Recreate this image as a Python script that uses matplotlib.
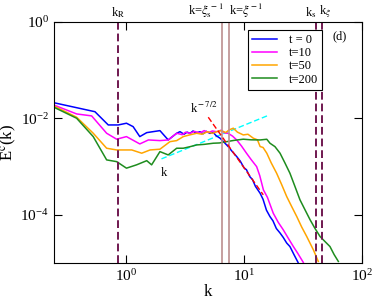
import numpy as np
import matplotlib.pyplot as plt

plt.rcParams['font.family'] = 'Liberation Serif'
plt.rcParams['mathtext.fontset'] = 'stix'

## Spectres E^c(k)
k0 = [0.245, 0.546, 0.708, 0.861, 1.01, 1.15, 1.31, 1.50, 1.94, 2.28, 2.69, 2.87,
      3.1, 3.3, 3.49, 3.7, 3.9, 4.24, 4.5, 4.8, 5.15, 5.5, 5.8, 6.26, 6.7, 7.36, 7.9,
      8.67, 9.3, 10.0, 10.5, 11.2, 11.8, 12.5, 13.7, 14.5, 15.5, 16.6, 17.6, 18.8,
      20.2, 21.5, 23.0, 24.5, 26.5, 28.7]
E0 = [0.0212, 0.0138, 0.00733, 0.00733, 0.00796, 0.00676, 0.0042, 0.00508, 0.00559,
      0.00358, 0.00493, 0.00532, 0.0047, 0.0052, 0.0049, 0.0055, 0.0050, 0.0053,
      0.0048, 0.0054, 0.0049, 0.0051, 0.0044, 0.0039, 0.0033, 0.0026, 0.0021,
      0.00162, 0.0013, 0.00095, 8.6e-4, 6.2e-4, 5.4e-4, 3.9e-4, 2.8e-4, 2.1e-4,
      1.25e-4, 9.2e-5, 7.5e-5, 5.2e-5, 4.2e-5, 3.4e-5, 2.6e-5, 2.2e-5, 1.5e-5, 1.03e-5]

k10 = [0.245, 0.382, 0.512, 0.686, 0.834, 1.01, 1.31, 1.55, 1.94, 2.28, 2.69, 3.0,
       3.2, 3.49, 3.8, 4.24, 4.6, 5.0, 5.4, 5.87, 6.4, 6.9, 7.36, 8.0, 8.67, 9.5,
       10.5, 11.5, 12.8, 13.6, 14.6, 15.8, 17.7, 19.5, 21.5, 23.5, 26.2, 28.5, 31.8]
E10 = [0.0190, 0.0124, 0.0113, 0.00493, 0.00371, 0.0042, 0.00296, 0.00358, 0.00347,
       0.00358, 0.00493, 0.0046, 0.0052, 0.0049, 0.0054, 0.0050, 0.0056, 0.0051,
       0.0055, 0.0053, 0.0057, 0.0050, 0.0049, 0.0043, 0.00358, 0.0027,
       0.0019, 0.0014, 0.001, 6.5e-4, 3.3e-4, 2.3e-4, 1.08e-4, 7.0e-5, 4.9e-5,
       3.4e-5, 2.2e-5, 1.6e-5, 1.03e-5]

k50 = [0.245, 0.382, 0.528, 0.686, 0.834, 1.12, 1.36, 1.60, 1.94, 2.36, 2.69, 3.06,
       3.4, 3.97, 4.4, 4.9, 5.4, 5.87, 6.4, 7.0, 7.5, 8.11, 8.8, 9.86, 10.8, 12.0,
       13.0, 13.7, 14.5, 15.6, 17.0, 18.9, 20.8, 23.0, 25.3, 28.0, 30.8, 34.0, 38.7,
       42.6]
E50 = [0.0182, 0.0106, 0.00493, 0.00241, 0.00222, 0.00222, 0.0019, 0.00222, 0.0023,
       0.0033, 0.00347, 0.0042, 0.0045, 0.00493, 0.0047, 0.0053, 0.0049, 0.00532,
       0.0056, 0.0051, 0.0058, 0.00627, 0.0052, 0.00455, 0.0047, 0.00389, 0.0036,
       0.00261, 0.0025, 0.0019, 0.0012, 7.3e-4, 4.3e-4, 2.4e-4, 1.5e-4, 9.2e-5,
       5.6e-5, 3.55e-5, 1.88e-5, 1.08e-5]

k200 = [0.245, 0.382, 0.528, 0.686, 0.834, 1.01, 1.23, 1.50, 1.65, 1.94, 2.28, 2.69,
        3.06, 3.5, 3.97, 4.6, 5.49, 6.2, 7.13, 8.2, 9.86, 11.5, 13.7, 15.6, 16.6,
        18.3, 20.2, 22.2, 24.5, 27.0, 29.8, 33.0, 36.3, 40.0, 44.1, 48.5, 53.5, 58.0,
        63.0]
E200 = [0.0171, 0.0101, 0.0042, 0.00138, 0.00127, 9.3e-4, 0.00109, 0.00133, 0.00109,
        0.00205, 0.00175, 0.00241, 0.00241, 0.0026, 0.00282, 0.0029, 0.00306, 0.0031,
        0.0033, 0.0035, 0.00371, 0.0036, 0.00358, 0.0037, 0.00306, 0.0026, 0.0019,
        0.0012, 7.3e-4, 3.9e-4, 2.05e-4, 1.25e-4, 7.9e-5, 5.2e-5, 3.55e-5, 2.8e-5,
        2.2e-5, 1.5e-5, 1.08e-5]

## Echelles caractéristiques
k_R = 0.85
k_xis = 6.55
k_xi = 7.42
k_s = 41.0
k_kxi = 45.4

## Lois de puissance
k_lin = [2.0, 16.1]
E_lin = [1.45e-3, 0.0116]
k_m72 = [4.98, 14.56]
E_m72 = [0.0106, 2.6e-4]

fig = plt.figure(figsize=(3.74, 3.02), dpi=100)
ax = fig.add_axes([0.144, 0.129, 0.824, 0.798])

ax.plot(k_lin, E_lin, color='cyan', ls=(0, (4, 2)), lw=1)
ax.plot(k0, E0, color='blue', lw=1.1, label='t = 0')
ax.plot(k10, E10, color='magenta', lw=1.1, label='t=10')
ax.plot(k50, E50, color='orange', lw=1.1, label='t=50')
ax.plot(k200, E200, color='#1e8c1e', lw=1.1, label='t=200')
ax.plot(k_m72, E_m72, color='red', ls=(0, (4, 2)), lw=1, zorder=3)

for kv in [k_R, k_s, k_kxi]:
    ax.axvline(kv, color='#701850', ls=(0, (4, 2)), lw=1.4)
for kv in [k_xis, k_xi]:
    ax.axvline(kv, color='#bc8f8f', lw=1.2)

ax.set_xscale('log')
ax.set_yscale('log')
ax.set_xlim(0.245, 100)
ax.set_ylim(1e-5, 1)
ax.set_yticks([1e0, 1e-2, 1e-4])
ax.set_xticks([1e0, 1e1, 1e2])
ax.minorticks_off()
ax.tick_params(which='major', direction='in', length=6, width=0.8,
               top=True, right=True, labelsize=11)
ax.set_xlabel('k', fontsize=12, labelpad=0)
ax.set_ylabel(r'E$^{\rm c}$(k)', fontsize=12, labelpad=1)

ax.text(0.95, 0.94, '(d)', transform=ax.transAxes, fontsize=9, ha='right', va='center')

tr = ax.get_xaxis_transform()
ax.text(k_R, 1.01, r'k$_{\rm R}$', transform=tr, fontsize=9, ha='center', va='bottom')
ax.text(k_xis * 1.03, 1.01, r'k=$\xi_{\rm s}^{\,\rm -1}$', transform=tr, fontsize=9,
        ha='right', va='bottom')
ax.text(k_xi * 1.0, 1.01, r'k=$\xi^{\rm -1}$', transform=tr, fontsize=9,
        ha='left', va='bottom')
ax.text(k_s * 0.9, 1.01, r'k$_{\rm s}$', transform=tr, fontsize=9, ha='center', va='bottom')
ax.text(k_kxi * 1.08, 1.01, r'k$_{\xi}$', transform=tr, fontsize=9, ha='center', va='bottom')

ax.text(4.6, 0.0112, r'k$^{\rm -7/2}$', fontsize=9, ha='center', va='bottom')
ax.text(2.1, 1.0e-3, 'k', fontsize=9, ha='center', va='top')

leg = ax.legend(loc='upper left', bbox_to_anchor=(0.61, 0.995), fontsize=9,
                frameon=True, fancybox=False, edgecolor='black', framealpha=1,
                handlelength=2.0, borderpad=0.35, labelspacing=0.1, handletextpad=0.9)
leg.get_frame().set_linewidth(0.8)

fig.savefig('out.png', dpi=100)
